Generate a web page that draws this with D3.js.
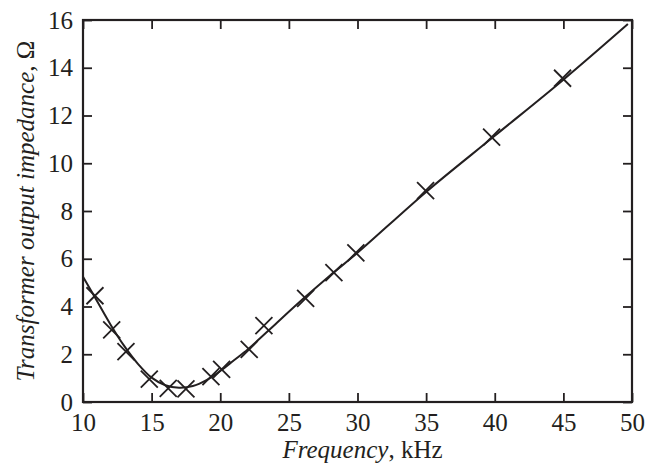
<!DOCTYPE html>
<html>
<head>
<meta charset="utf-8">
<script src="https://cdn.jsdelivr.net/npm/d3@7"></script>
<style>
  body { margin: 0; background: #fff; }
  svg { display: block; }
  text { font-family: "Liberation Serif", "Times New Roman", serif; fill: #231f20; }
</style>
</head>
<body>
<svg id="chart" width="658" height="469"></svg>
<script>
// measured points (crosses)
const freq = [10.87, 12.09, 13.13, 14.83, 16.21, 17.5, 19.32, 20.1, 22.11, 23.18, 26.22, 28.28, 29.88, 34.96, 39.77, 44.94];
const impedance = [4.45, 3.02, 2.11, 0.96, 0.57, 0.55, 1.06, 1.37, 2.2, 3.2, 4.34, 5.42, 6.25, 8.85, 11.09, 13.56];

// fitted curve
const fitFreq = [10, 11, 12, 13, 14, 15, 16, 17, 18, 19, 20, 21, 22, 23, 24, 26, 28, 30, 35, 40, 45, 49.7];
const fitImp = [5.25, 4.25, 3.25, 2.35, 1.6, 1.02, 0.7, 0.6, 0.67, 0.92, 1.3, 1.75, 2.2, 2.72, 3.25, 4.3, 5.3, 6.25, 8.8, 11.15, 13.5, 15.83];

const xTicks = [10, 15, 20, 25, 30, 35, 40, 45, 50];
const yTicks = [0, 2, 4, 6, 8, 10, 12, 14, 16];

const svg = d3.select("#chart");
const margin = { top: 20, right: 26, bottom: 67, left: 83 };
const width = 658 - margin.left - margin.right,
  height = 469 - margin.top - margin.bottom;
const ink = "#231f20";
const fontSize = 25;

const x = d3.scaleLinear().domain([10, 50]).range([0, width]);
const y = d3.scaleLinear().domain([0, 16]).range([height, 0]);

const g = svg.append("g").attr("transform", `translate(${margin.left},${margin.top})`);

const tickLen = 9;

function styleAxis(a) {
  a.select(".domain").remove();
  a.selectAll("line").attr("stroke", ink).attr("stroke-width", 1.8);
  a.selectAll("text").attr("font-size", fontSize).attr("fill", ink).attr("font-family", null);
  a.attr("font-family", null);
}

// bottom axis (ticks inward)
g.append("g")
  .attr("transform", `translate(0,${height})`)
  .call(d3.axisBottom(x).tickValues(xTicks).tickSizeInner(-tickLen).tickSizeOuter(0).tickPadding(11))
  .call(styleAxis);

// top axis ticks
g.append("g")
  .call(d3.axisTop(x).tickValues(xTicks).tickSizeInner(-tickLen).tickSizeOuter(0).tickFormat(""))
  .call(styleAxis);

// left axis
g.append("g")
  .call(d3.axisLeft(y).tickValues(yTicks).tickSizeInner(-tickLen).tickSizeOuter(0).tickPadding(10))
  .call(styleAxis);

// right axis ticks
g.append("g")
  .attr("transform", `translate(${width},0)`)
  .call(d3.axisRight(y).tickValues(yTicks).tickSizeInner(-tickLen).tickSizeOuter(0).tickFormat(""))
  .call(styleAxis);

// frame
g.append("rect")
  .attr("width", width)
  .attr("height", height)
  .attr("fill", "none")
  .attr("stroke", ink)
  .attr("stroke-width", 2.2);

// fitted line
const line = d3.line()
  .x((d, i) => x(fitFreq[i]))
  .y((d) => y(d))
  .curve(d3.curveCatmullRom);

g.append("path")
  .datum(fitImp)
  .attr("fill", "none")
  .attr("stroke", ink)
  .attr("stroke-width", 2)
  .attr("d", line);

// crosses
const s = 8.5;
const pts = g.append("g").selectAll("g").data(freq).join("g")
  .attr("transform", (d, i) => `translate(${x(d)},${y(impedance[i])})`);
pts.append("path")
  .attr("d", `M${-s},${-s}L${s},${s}M${-s},${s}L${s},${-s}`)
  .attr("stroke", ink)
  .attr("stroke-width", 1.8)
  .attr("fill", "none");

// x label
const xl = svg.append("text")
  .attr("x", margin.left + width / 2 + 5)
  .attr("y", 458)
  .attr("text-anchor", "middle")
  .attr("font-size", fontSize);
xl.append("tspan").attr("font-style", "italic").text("Frequency");
xl.append("tspan").text(", kHz");

// y label
const yl = svg.append("text")
  .attr("transform", `translate(34,${margin.top + height / 2}) rotate(-90)`)
  .attr("text-anchor", "middle")
  .attr("font-size", fontSize);
yl.append("tspan").attr("font-style", "italic").text("Transformer output impedance");
yl.append("tspan").text(", Ω");
</script>
</body>
</html>
